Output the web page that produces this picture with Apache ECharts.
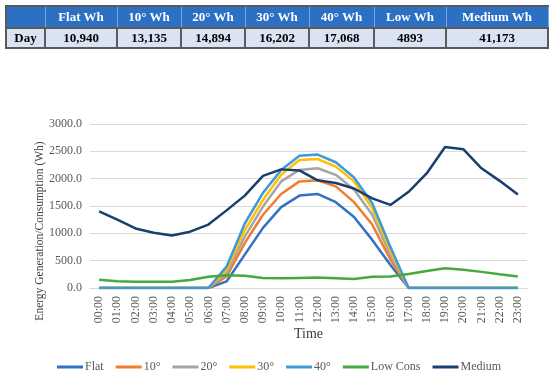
<!DOCTYPE html>
<html><head><meta charset="utf-8">
<script src="https://cdn.jsdelivr.net/npm/echarts@6/dist/echarts.min.js"></script>
<style>
html,body{margin:0;padding:0;background:#fff;}
#chart{position:absolute;left:0;top:0;width:550px;height:374px;}
#tbl{position:absolute;left:5px;top:5px;border-collapse:collapse;font-family:"Liberation Serif","Times New Roman",serif;font-weight:bold;font-size:13px;table-layout:fixed;z-index:2;}
#tbl td{padding:0;text-align:center;overflow:hidden;white-space:nowrap;}
#tbl tr.h td{background:#2C70C4;color:#fff;height:20px;border:1px solid #7FA6D8;}
#tbl tr.d td{background:#DAE3F3;color:#000;height:18px;border:2px solid #5A5A5A;}
#tbl tr.h td:first-child{border-left:2px solid #5A5A5A;}
#tbl tr.h td{border-top:2px solid #5A5A5A;}
</style></head>
<body>
<div id="chart"></div>
<table id="tbl"></table>
<script>
// ---- data ----
var tableHeaders = ["", "Flat Wh", "10° Wh", "20° Wh", "30° Wh", "40° Wh", "Low Wh", "Medium Wh"];
var tableRow = ["Day", "10,940", "13,135", "14,894", "16,202", "17,068", "4893", "41,173"];
var hours = ["00:00","01:00","02:00","03:00","04:00","05:00","06:00","07:00","08:00","09:00","10:00","11:00","12:00","13:00","14:00","15:00","16:00","17:00","18:00","19:00","20:00","21:00","22:00","23:00"];
var seriesNames = ["Flat", "10°", "20°", "30°", "40°", "Low Cons", "Medium"];
var flat  = [0,0,0,0,0,0,0,120,610,1100,1480,1690,1720,1570,1300,880,420,0,0,0,0,0,0,0];
var deg10 = [0,0,0,0,0,0,0,210,820,1340,1720,1950,1970,1860,1570,1160,520,0,0,0,0,0,0,0];
var deg20 = [0,0,0,0,0,0,0,270,940,1490,1950,2160,2190,2070,1800,1340,600,0,0,0,0,0,0,0];
var deg30 = [0,0,0,0,0,0,0,330,1060,1610,2070,2340,2360,2220,1950,1460,680,0,0,0,0,0,0,0];
var deg40 = [0,0,0,0,0,0,0,390,1180,1740,2160,2420,2440,2300,2020,1550,750,0,0,0,0,0,0,0];
var lowCons = [150,125,115,115,115,145,205,235,225,185,180,185,190,180,165,205,210,255,310,360,335,295,250,210];
var medium = [1400,1250,1090,1010,960,1030,1160,1420,1690,2050,2170,2150,1970,1920,1820,1640,1520,1760,2100,2580,2540,2190,1960,1710];
var yTicks = [0, 500, 1000, 1500, 2000, 2500, 3000];

// ---- table ----
var widths = [39, 72, 64, 64, 64, 65, 72, 102];
var tbl = document.getElementById('tbl');
var cg = document.createElement('colgroup');
widths.forEach(function(w){ var c=document.createElement('col'); c.style.width=w+'px'; cg.appendChild(c); });
tbl.appendChild(cg);
function addRow(cells, cls){
  var tr=document.createElement('tr'); tr.className=cls;
  cells.forEach(function(t){ var td=document.createElement('td'); td.textContent=t; tr.appendChild(td); });
  tbl.appendChild(tr);
}
addRow(tableHeaders,'h');
addRow(tableRow,'d');

// ---- chart ----
var colors = ["#3171C6","#F07C2E","#A5A5A5","#FFC000","#3E9AD8","#45AA3D","#183F70"];
var dataSets = [flat, deg10, deg20, deg30, deg40, lowCons, medium];
var serif = '"Liberation Serif","Times New Roman",serif';
var chart = echarts.init(document.getElementById('chart'), null, {renderer:'canvas'});
chart.setOption({
  animation:false,
  color: colors,
  grid:{left:90, right:23, top:124, bottom:86, containLabel:false},
  xAxis:{
    type:'category', data:hours, boundaryGap:true,
    axisLine:{show:true, lineStyle:{color:'#D9D9D9', width:1}},
    axisTick:{show:false},
    axisLabel:{rotate:90, fontFamily:serif, fontSize:12, color:'#595959', margin:8, interval:0},
    name:'Time', nameLocation:'middle', nameGap:39,
    nameTextStyle:{fontFamily:serif, fontSize:14, color:'#404040'}
  },
  yAxis:{
    type:'value', min:yTicks[0], max:yTicks[yTicks.length-1], interval:500,
    axisLine:{show:false}, axisTick:{show:false},
    splitLine:{lineStyle:{color:'#D9D9D9', width:1}},
    axisLabel:{fontFamily:serif, fontSize:12, color:'#595959', margin:8,
      formatter:function(v){return v.toFixed(1);}}
  },
  graphic:[{
    type:'text', x:40, y:231, rotation:Math.PI/2,
    style:{text:'Energy Generation/Consumption (Wh)', font:'11.5px '+serif, fill:'#404040', align:'center', verticalAlign:'middle'}
  }],
  legend:{
    data:seriesNames, left:52, top:356,
    icon:'rect', itemWidth:26, itemHeight:3, itemGap:12,
    textStyle:{fontFamily:serif, fontSize:12, color:'#595959', padding:[0,0,0,-3]}
  },
  series: seriesNames.map(function(n,i){
    return {name:n, type:'line', data:dataSets[i], showSymbol:false, symbol:'none',
      lineStyle:{width:2.5, color:colors[i]}, itemStyle:{color:colors[i]}, z:2+i};
  })
});
</script>
</body></html>
